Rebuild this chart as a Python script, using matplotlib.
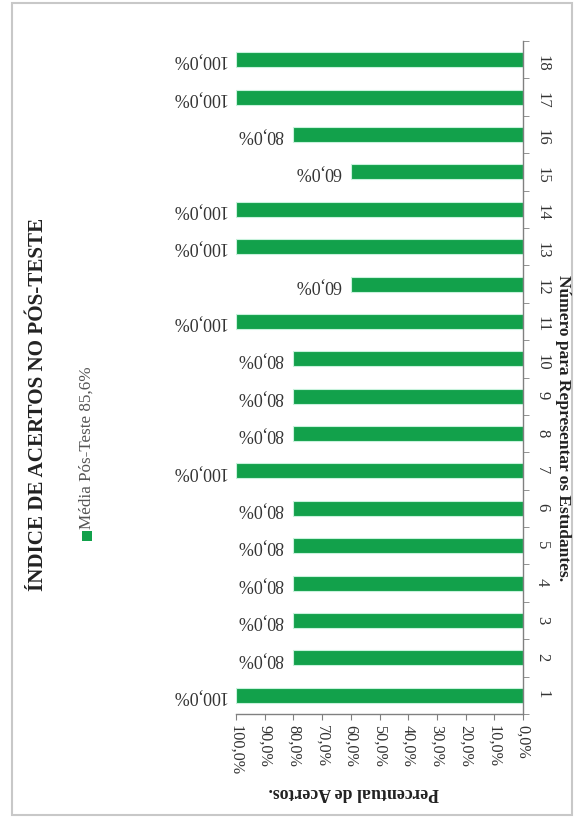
import numpy as np
import matplotlib
matplotlib.use("Agg")
import matplotlib.pyplot as plt
from matplotlib.patches import Rectangle

# Percentual de acertos por estudante no pós-teste
estudantes = list(range(1, 19))
acertos = [100, 80, 80, 80, 80, 80, 100, 80, 80, 80, 100, 60, 100, 100, 60, 80, 100, 100]
ticks_valor = [0, 10, 20, 30, 40, 50, 60, 70, 80, 90, 100]

titulo = "ÍNDICE DE ACERTOS NO PÓS-TESTE"
rotulo_cat = "Número para Representar os Estudantes."
rotulo_val = "Percentual de Acertos."
media = np.mean(acertos)
legenda = "Média Pós-Teste " + f"{media:.1f}%".replace(".", ",")

verde = "#12a14b"
cinza = "#333333"
plt.rcParams["font.family"] = ["Liberation Serif", "DejaVu Serif"]

fig = plt.figure(figsize=(5.77, 8.2), dpi=100)
W, H = 577, 820
ax = fig.add_axes([236 / W, 1 - 715 / H, (523 - 236) / W, (715 - 42) / H])

ax.barh(estudantes, acertos, height=0.4, color=verde, edgecolor="#c8f2dc", linewidth=0.8)
ax.set_xlim(100, 0)
ax.set_ylim(0.5, 18.5)

# valores nas barras (texto invertido)
for e, v in zip(estudantes, acertos):
    ax.annotate(f"{v:.1f}%".replace(".", ","), (v, e), xytext=(-7, 0), textcoords="offset points",
                rotation=180, ha="right", va="center", fontsize=13, color=cinza)

ax.yaxis.tick_right()
ax.set_yticks(estudantes)
ax.set_yticklabels([str(e) for e in estudantes], rotation=270, fontsize=12, color=cinza)
ax.set_yticks(np.arange(0.5, 19, 1), minor=True)
ax.tick_params(axis="y", which="major", length=0, pad=8)
ax.tick_params(axis="y", which="minor", length=4, color="#808080", direction="out")

ax.set_xticks(ticks_valor)
ax.set_xticklabels([f"{t:.1f}%".replace(".", ",") for t in ticks_valor], rotation=270,
                   fontsize=11.7, color=cinza)
ax.tick_params(axis="x", length=4, color="#808080", pad=3)

for s in ["left", "top"]:
    ax.spines[s].set_visible(False)
for s in ["right", "bottom"]:
    ax.spines[s].set_color("#808080")
    ax.spines[s].set_linewidth(1.0)

# textos externos
fig.text(38 / W, 1 - 404 / H, titulo, rotation=90, ha="center", va="center",
         fontsize=15.2, fontweight="bold", color="#222222")
fig.text(563 / W, 1 - 428 / H, rotulo_cat, rotation=270, ha="center", va="center",
         fontsize=12.5, fontweight="bold", color="#222222")
fig.text(354 / W, 1 - 793 / H, rotulo_val, rotation=180, ha="center", va="center",
         fontsize=12.8, fontweight="bold", color="#222222")
fig.text(87 / W, 1 - 448 / H, legenda, rotation=90, ha="center", va="center",
         fontsize=12.3, color="#555555")
fig.patches.append(Rectangle((82 / W, 1 - 542 / H), 10 / W, 10 / H, transform=fig.transFigure,
                             facecolor=verde, edgecolor="none"))

# moldura
fig.patches.append(Rectangle((12 / W, 1 - 816 / H), 560 / W, 812 / H, transform=fig.transFigure,
                             facecolor="none", edgecolor="#c8c8c8", linewidth=1.5))

fig.savefig("out.png", dpi=100)
